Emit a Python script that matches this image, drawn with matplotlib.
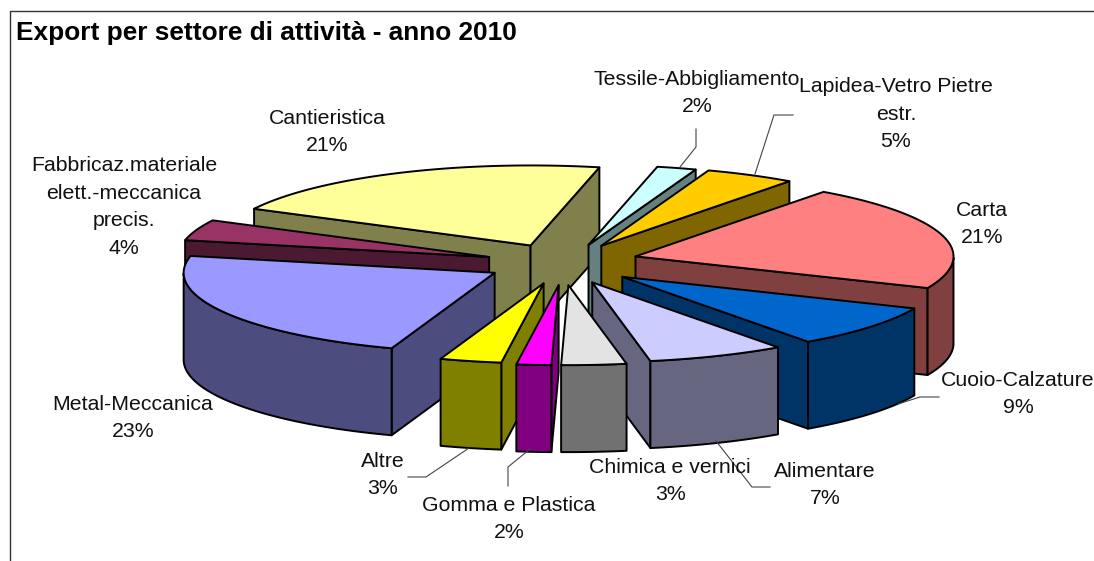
# 3D exploded pie, Export per settore di attivita
import numpy as np
import matplotlib
matplotlib.use('Agg')
import matplotlib.pyplot as plt
from matplotlib.patches import Polygon

plt.rcParams['font.family'] = ['Liberation Sans', 'DejaVu Sans']

# clockwise from the first slice
sectors = ['Tessile-Abbigliamento', 'Lapidea-Vetro Pietre\nestr.', 'Carta', 'Cuoio-Calzature', 'Alimentare',
           'Chimica e vernici', 'Gomma e Plastica', 'Altre', 'Metal-Meccanica',
           'Fabbricaz.materiale\nelett.-meccanica\nprecis.', 'Cantieristica']
values = [2.0, 4.6, 21.4, 8.6, 7.0, 3.3, 1.8, 3.2, 23.0, 4.2, 20.9]
explode = [0.21, 0.23, 0.22, 0.235, 0.25, 0.29, 0.29, 0.30, 0.25, 0.26, 0.27]
top_colors = ['#CCFFFF', '#FFCC00', '#FF8080', '#0066CC', '#CCCCFF', '#E3E3E3',
              '#FF00FF', '#FFFF00', '#9999FF', '#993366', '#FFFF99']
wall_colors = ['#668080', '#806600', '#804040', '#003366', '#666680', '#717171',
               '#800080', '#808000', '#4C4C7F', '#4C1933', '#80804C']
label_xy = [(697, 93), (896, 114), (982, 224), (1018, 394), (825, 485),
            (670, 481), (509, 519), (383, 475), (133, 418), (124, 207), (327, 132)]
# small pixel shifts of the slices, excel does not explode them evenly
nudge = [(3, -1), (0, 0), (1, -1), (-3, 3), (-6, 2), (-6, 0), (-1, 0), (-1, -2), (-3, 1), (0, 2), (0, 3)]
draw_order = [10, 9, 8, 0, 1, 2, 3, 4, 7, 6, 5]

leaders = [[(696, 129), (696, 147), (680, 167)],
           [(793, 115), (774, 115), (755, 174)],
           [(939, 397), (920, 397), (898, 404)],
           [(770, 487), (752, 487), (716, 441)],
           [(408, 477), (426, 477), (469, 448)],
           [(508, 486), (508, 467), (530, 449)]]

start_angle = 77.5
cx, cy = 567, 262
rx_left, rx_right, ry = 311, 318, 80
depth = 87


def to_xy(apex, t):
    t = np.radians(t)
    c = np.cos(t)
    return apex[0] + np.where(c < 0, rx_left, rx_right) * c, apex[1] - ry * np.sin(t)


fig = plt.figure(figsize=(10.94, 5.61), dpi=100)
ax = fig.add_axes([0, 0, 1, 1])
ax.set_xlim(0, 1094)
ax.set_ylim(561, 0)
ax.axis('off')

# chart frame, only top and left show
ax.plot([10, 10, 1094], [561, 11, 11], color='#333333', lw=1.0, zorder=1)

edges = start_angle - np.cumsum([0] + values) * 3.6
style = dict(edgecolor='black', linewidth=1.4, joinstyle='round')

for i in draw_order:
    t0, t1 = edges[i], edges[i + 1]
    mid = np.radians((t0 + t1) / 2)
    apex = (cx + explode[i] * rx_right * np.cos(mid) + nudge[i][0],
            cy - explode[i] * ry * np.sin(mid) + nudge[i][1])
    low = (apex[0], apex[1] + depth)
    # radial side walls
    for t, visible in [(t0, np.cos(np.radians(t0)) < 0), (t1, np.cos(np.radians(t1)) > 0)]:
        if visible:
            a = to_xy(apex, t)
            pts = [apex, a, (a[0], a[1] + depth), low]
            ax.add_patch(Polygon(pts, facecolor=wall_colors[i], zorder=2, **style))
    # outer wall, front half only
    ts = np.linspace(t0, t1, 80)
    front = ts[np.sin(np.radians(ts)) <= 0]
    if len(front) > 1:
        x, y = to_xy(apex, front)
        pts = np.r_[np.c_[x, y], np.c_[x, y + depth][::-1]]
        ax.add_patch(Polygon(pts, facecolor=wall_colors[i], zorder=2, **style))
    # top face
    x, y = to_xy(apex, ts)
    pts = np.r_[[apex], np.c_[x, y]]
    ax.add_patch(Polygon(pts, facecolor=top_colors[i], zorder=2, **style))

for line in leaders:
    xs, ys = zip(*line)
    ax.plot(xs, ys, color='#444444', lw=0.8, zorder=3)

for name, val, (x, y) in zip(sectors, values, label_xy):
    ax.text(x, y, f'{name}\n{val:.0f}%', ha='center', va='center', fontsize=15.3,
            linespacing=1.58, color='#111111', zorder=4)

ax.text(16, 33, 'Export per settore di attività - anno 2010', ha='left', va='center',
        fontsize=18.9, fontweight='bold', color='black', zorder=4)

fig.savefig('out.png', dpi=100, facecolor='white')
plt.close('all')
